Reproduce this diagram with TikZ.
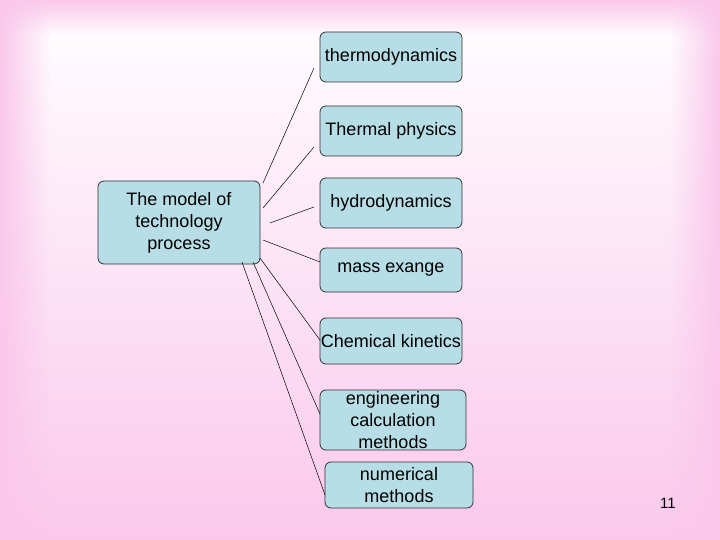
\documentclass[tikz,border=0pt]{standalone}
\usepackage{fontspec}
\setmainfont{Liberation Sans}
\usetikzlibrary{fadings}
\definecolor{bgpink}{RGB}{250,200,235}
\definecolor{boxblue}{RGB}{183,222,230}
\begin{document}
\begin{tikzpicture}[x=1pt,y=-1pt,
  box/.style={draw=black!80, fill=boxblue, rounded corners=6pt, line width=0.8pt, align=center, font=\fontsize{18}{22}\selectfont, inner sep=0pt},
  con/.style={draw=black, line width=0.5pt}]
\useasboundingbox (0,0) rectangle (720,540);
\shade[top color=white, bottom color=bgpink] (0,0) rectangle (720,540);
\fill[bgpink, path fading=east] (0,0) rectangle (50,540);
\fill[bgpink, path fading=west] (670,0) rectangle (720,540);
\fill[bgpink, path fading=south] (0,0) rectangle (720,35);
\node[box, minimum width=162pt, minimum height=83pt] (m) at (179,222.5) {The model of\\technology\\process};
\node[box, minimum width=142pt, minimum height=50pt] (a) at (391,57) {thermodynamics};
\node[box, minimum width=142pt, minimum height=50pt] (b) at (391,131) {Thermal physics};
\node[box, minimum width=142pt, minimum height=50pt] (c) at (391,203) {hydrodynamics};
\node[box, minimum width=142pt, minimum height=44pt] (d) at (391,270) {mass exange};
\node[box, minimum width=142pt, minimum height=46pt] (e) at (391,341) {Chemical kinetics};
\node[box, minimum width=146pt, minimum height=60pt] (f) at (393,420) {engineering\\calculation\\methods};
\node[box, minimum width=148pt, minimum height=46pt] (g) at (399,485) {numerical\\methods};
\node[font=\fontsize{15}{16}\selectfont] (p) at (668,503) {11};
\coordinate (a1) at (263,183); \coordinate (a2) at (314,68);
\coordinate (b1) at (263,208); \coordinate (b2) at (314,147);
\coordinate (c1) at (270,223); \coordinate (c2) at (314,207);
\coordinate (d1) at (263,240); \coordinate (d2) at (320,262);
\coordinate (e1) at (260,258); \coordinate (e2) at (320,340);
\coordinate (f1) at (253,262); \coordinate (f2) at (320,414);
\coordinate (g1) at (242,262); \coordinate (g2) at (325,495);
\draw[con] (a1) -- (a2);
\draw[con] (b1) -- (b2);
\draw[con] (c1) -- (c2);
\draw[con] (d1) -- (d2);
\draw[con] (e1) -- (e2);
\draw[con] (f1) -- (f2);
\draw[con] (g1) -- (g2);
\end{tikzpicture}
\end{document}
